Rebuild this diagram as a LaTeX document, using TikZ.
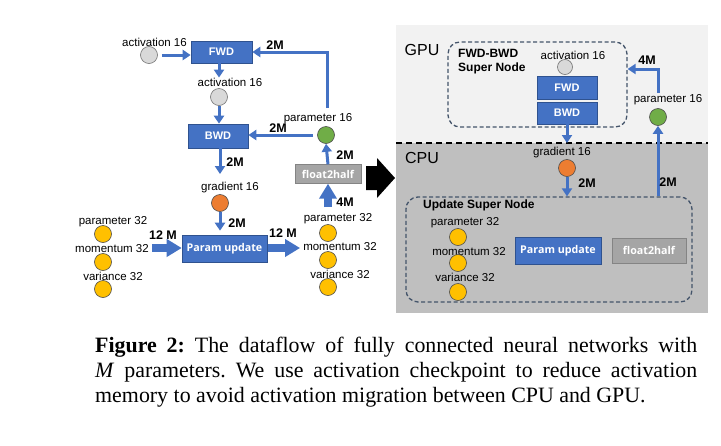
\documentclass[tikz,border=0pt]{standalone}
\usepackage{fontspec}
\setmainfont{Liberation Serif}
\setsansfont{Liberation Sans}
\newfontfamily\osb{Open Sans}
\usetikzlibrary{arrows.meta}
\definecolor{blueA}{HTML}{4472C4}
\definecolor{blueD}{HTML}{2F528F}
\definecolor{dashc}{HTML}{44546A}
\definecolor{gpubg}{HTML}{F2F2F2}
\definecolor{cpubg}{HTML}{BFBFBF}
\definecolor{fhgray}{HTML}{A5A5A5}
\definecolor{cgray}{HTML}{D9D9D9}
\definecolor{cgreen}{HTML}{70AD47}
\definecolor{corange}{HTML}{ED7D31}
\definecolor{cyellow}{HTML}{FFC000}
\begin{document}
\begin{tikzpicture}[x=1pt,y=-1pt,
  lbl/.style={font=\sffamily\fontsize{11.5}{12}\selectfont, inner sep=0},
  num/.style={font=\sffamily\bfseries\fontsize{12.5}{12}\selectfont, inner sep=0},
  blk/.style={draw=blueD, fill=blueA, text=white, line width=0.6pt, inner sep=0,
    font=\sffamily\bfseries\fontsize{11}{11}\selectfont},
  pub/.style={draw=blueD, fill=blueA, text=white, line width=0.6pt, inner sep=0,
    font=\osb\bfseries\fontsize{10.7}{11}\selectfont},
  fhb/.style={draw=fhgray!80!black, fill=fhgray, text=white, line width=0.4pt, inner sep=0,
    font=\osb\bfseries\fontsize{10.7}{11}\selectfont},
  circ/.style={circle, minimum size=17pt, inner sep=0, line width=0.6pt},
  gcirc/.style={circ, draw=black!55, fill=cgray},
  grcirc/.style={circ, draw=black!70, fill=cgreen},
  ocirc/.style={circ, draw=black!70, fill=corange},
  ycirc/.style={circ, draw=black!70, fill=cyellow},
  arr/.style={draw=blueA, line width=3pt, -{Triangle[width=10pt,length=8pt]}},
  fat/.style={draw=blueA, line width=8pt, -{Triangle[width=17pt,length=15pt]}},
  snode/.style={draw=dashc, line width=1.3pt, dash pattern=on 4pt off 2.5pt, rounded corners=12pt},
  area/.style={font=\sffamily\fontsize{16}{16}\selectfont, inner sep=0},
  sntext/.style={font=\sffamily\bfseries\fontsize{12}{14}\selectfont, inner sep=0, align=left}
]
\useasboundingbox (0,0) rectangle (721,445);
\fill[white] (0,0) rectangle (721,445);

% ================= LEFT DIAGRAM =================
\node[lbl] (a1l) at (154.5,42) {activation 16};
\node[gcirc] (a1c) at (149,55) {};
\node[blk, minimum width=61pt, minimum height=22pt] (fwd) at (221.5,52) {FWD};
\node[lbl] (a2l) at (230,82) {activation 16};
\node[gcirc] (a2c) at (219,97) {};
\node[blk, minimum width=60pt, minimum height=24pt] (bwd) at (218,136) {BWD};
\node[lbl] (p16l) at (318,119) {parameter 16};
\node[grcirc] (p16c) at (326,135) {};
\coordinate (p16top) at (327,108);
\node[num] (m2a) at (275,45) {2M};
\node[num] (m2b) at (278,128) {2M};

\draw[arr] ([xshift=4pt]a1c.east) -- (a1c.east -| fwd.west);
\draw[arr] (p16top) |- (fwd.east);
\draw[arr] (a2c |- fwd.south) -- (a2c |- a2l.north);
\draw[arr] (a2c.south) -- (a2c |- bwd.north);
\draw[arr] ([xshift=-4pt]p16c.west) -- (p16c.west -| bwd.east);

\node[lbl] (gl) at (230,188) {gradient 16};
\node[ocirc] (gc) at (220,203) {};
\coordinate (gtop) at (220,174);
\draw[arr] (gc |- bwd.south) -- (gtop);
\node[num] (m2c) at (235,162) {2M};

\node[pub, minimum width=85pt, minimum height=27pt] (pu) at (224.5,248.5) {Param update};
\draw[arr] (gc.south) -- ([yshift=4pt]gc |- pu.north);
\node[num] (m2d) at (237,223) {2M};

\node[lbl] (lp) at (113,222) {parameter 32};
\node[lbl] (lm) at (112,249) {momentum 32};
\node[lbl] (lv) at (113,276) {variance 32};
\node[ycirc] (lc1) at (103,234) {};
\node[ycirc] (lc2) at (103,262) {};
\node[ycirc] (lc3) at (103,289) {};
\draw[fat] ([xshift=3pt]lm.east |- 0,248) -- (pu.west |- 0,248);
\node[num] (m12a) at (163,235) {12 M};

\node[lbl] (rp) at (338,219) {parameter 32};
\node[lbl] (rm) at (340,247) {momentum 32};
\node[lbl] (rv) at (340,274) {variance 32};
\node[ycirc] (rc1) at (328,233) {};
\node[ycirc] (rc2) at (328,260) {};
\node[ycirc] (rc3) at (328,287) {};
\draw[fat] ([xshift=1pt]pu.east |- 0,248) -- ([xshift=-3pt]rm.west |- 0,248);
\node[num] (m12b) at (283,233) {12 M};

\node[fhb, minimum width=66pt, minimum height=19pt] (fh) at (328,174) {float2half};
\coordinate (fhin) at (328,207);
\draw[fat] (fhin) -- (fh.south);
\node[num] (m4a) at (345,202) {4M};
\draw[arr] (fh.north) -- (p16c.south);
\node[num] (m2e) at (345,155) {2M};

% big black arrow
\fill[black] (366,166) -- (377,166) -- (377,158) -- (395,178) -- (377,198) -- (377,190) -- (366,190) -- cycle;

% ================= RIGHT DIAGRAM =================
\fill[gpubg] (396,25) rectangle (708,143);
\fill[cpubg] (396,143) rectangle (708,313);
\draw[black, line width=1.5pt, dash pattern=on 6pt off 4pt] (396,143) -- (708,143);
\node[area] (gpu) at (422,50) {GPU};
\node[area] (cpu) at (422,158) {CPU};

\node[snode, minimum width=179pt, minimum height=85pt] (sn1) at (537.5,84.5) {};
\node[sntext, anchor=north west] (sn1t) at (458,49) {FWD-BWD\\Super Node};
\node[lbl] (ra1l) at (573,55) {activation 16};
\node[gcirc, minimum size=15pt] (ra1c) at (565,67) {};
\node[blk, minimum width=60pt, minimum height=23pt] (rfwd) at (567,87.5) {FWD};
\node[blk, minimum width=60pt, minimum height=22pt] (rbwd) at (567,113) {BWD};
\coordinate (rgtop) at (567,143);
\draw[arr] (rgtop |- rbwd.south) -- (rgtop);

\node[lbl] (rgl) at (562,153) {gradient 16};
\node[ocirc] (rgc) at (567,168) {};

\node[lbl] (rp16l) at (668,100) {parameter 16};
\node[grcirc] (rp16c) at (658,117) {};
\coordinate (rp16top) at (658,93);
\draw[arr] (rp16top) |- (sn1.east |- 0,69);
\node[num] (m4b) at (647,60) {4M};

\node[snode, minimum width=286pt, minimum height=105pt] (sn2) at (549,249.5) {};
\node[sntext, anchor=west] (sn2t) at (423,205) {Update Super Node};
\draw[arr] (rgc.south) -- (rgc |- sn2.north);
\node[num] (m2f) at (587,183) {2M};
\draw[arr] (rp16c |- sn2.north) -- (rp16c.south);
\node[num] (m2g) at (668,182) {2M};

\node[lbl] (up) at (465,223) {parameter 32};
\node[lbl] (um) at (469,252) {momentum 32};
\node[lbl] (uv) at (465,277) {variance 32};
\node[ycirc] (uc1) at (458,237) {};
\node[ycirc] (uc2) at (458,263) {};
\node[ycirc] (uc3) at (458,292) {};
\node[pub, minimum width=86pt, minimum height=27pt] (rpu) at (558,250.5) {Param update};
\node[fhb, minimum width=74pt, minimum height=25pt] (rfh) at (649,250.5) {float2half};

% ================= CAPTION =================
\node[anchor=west, inner sep=0] (cap) at (95,372) {\parbox[c]{602pt}{\frenchspacing\fontsize{21.9}{25}\selectfont
\textbf{Figure 2:} The dataflow of fully connected neural networks with\linebreak
\textit{M} parameters. We use activation checkpoint to reduce activation\linebreak
memory to avoid activation migration between CPU and GPU.}};
\end{tikzpicture}
\end{document}
